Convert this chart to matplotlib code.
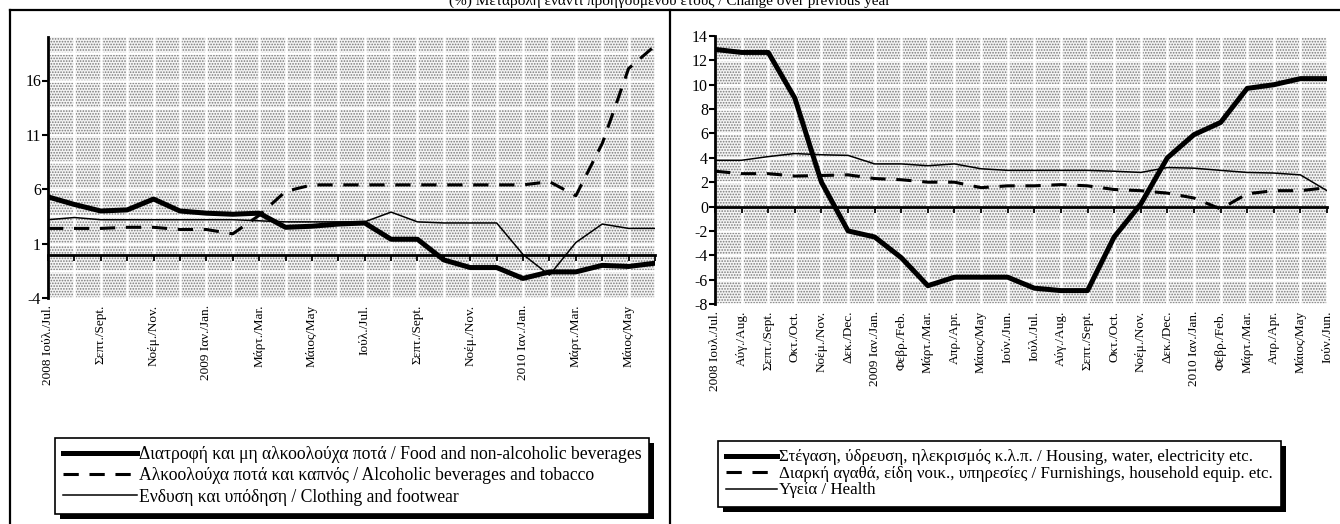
import matplotlib.pyplot as plt
from matplotlib.lines import Line2D
from matplotlib.patches import Rectangle

plt.rcParams['font.family'] = ['Liberation Serif', 'DejaVu Serif']
plt.rcParams['axes.unicode_minus'] = False
plt.rcParams['hatch.linewidth'] = 0.8

W, H = 1340, 524

title = "(%) Μεταβολή έναντι προηγούμενου έτους / Change over previous year"

# monthly points, Jul 2008 .. Jun 2010
months = list(range(24))

left_labels = ["2008 Ιούλ./Jul.", "Σεπτ./Sept.", "Νοέμ./Nov.", "2009 Ιαν./Jan.",
               "Μάρτ./Mar.", "Μάιος/May", "Ιούλ./Jul.", "Σεπτ./Sept.",
               "Νοέμ./Nov.", "2010 Ιαν./Jan.", "Μάρτ./Mar.", "Μάιος/May"]
right_labels = ["2008 Ιουλ./Jul.", "Αύγ./Aug.", "Σεπτ./Sept.", "Οκτ./Oct.",
                "Νοέμ./Nov.", "Δεκ./Dec.", "2009 Ιαν./Jan.", "Φεβρ./Feb.",
                "Μάρτ./Mar.", "Απρ./Apr.", "Μάιος/May", "Ιούν./Jun.",
                "Ιούλ./Jul.", "Αύγ./Aug.", "Σεπτ./Sept.", "Οκτ./Oct.",
                "Νοέμ./Nov.", "Δεκ./Dec.", "2010 Ιαν./Jan.", "Φεβρ./Feb.",
                "Μάρτ./Mar.", "Απρ./Apr.", "Μάιος/May", "Ιούν./Jun."]

food = [5.3, 4.6, 4.0, 4.1, 5.1, 4.0, 3.8, 3.7, 3.8, 2.5, 2.6, 2.8,
        2.9, 1.4, 1.4, -0.5, -1.2, -1.2, -2.2, -1.6, -1.6, -1.0, -1.1, -0.8]
alcohol = [2.4, 2.4, 2.4, 2.5, 2.5, 2.3, 2.3, 1.9, 3.6, 5.8, 6.4, 6.4,
           6.4, 6.4, 6.4, 6.4, 6.4, 6.4, 6.4, 6.7, 5.4, 10.2, 17.1, 19.2]
clothing = [3.2, 3.4, 3.2, 3.2, 3.2, 3.2, 3.2, 3.2, 3.1, 3.0, 3.0, 3.0,
            3.0, 3.9, 3.0, 2.9, 2.9, 2.9, 0.0, -1.9, 1.1, 2.8, 2.4, 2.4]

housing = [12.9, 12.65, 12.65, 8.9, 2.0, -2.0, -2.5, -4.2, -6.5, -5.8, -5.8, -5.8,
           -6.7, -6.9, -6.9, -2.5, 0.2, 4.0, 5.9, 6.9, 9.7, 10.0, 10.5, 10.5]
furnishings = [2.9, 2.7, 2.7, 2.5, 2.55, 2.6, 2.3, 2.2, 2.0, 2.0, 1.55, 1.7,
               1.7, 1.8, 1.7, 1.4, 1.3, 1.1, 0.7, -0.2, 1.05, 1.3, 1.3, 1.55]
health = [3.8, 3.8, 4.1, 4.35, 4.25, 4.2, 3.5, 3.5, 3.35, 3.5, 3.1, 2.97,
          2.97, 2.97, 2.97, 2.9, 2.8, 3.2, 3.15, 2.97, 2.8, 2.75, 2.6, 1.3]

left_names = ["Διατροφή και μη αλκοολούχα ποτά / Food and non-alcoholic beverages",
              "Αλκοολούχα ποτά και καπνός / Alcoholic beverages and tobacco",
              "Ενδυση και υπόδηση / Clothing and footwear"]
right_names = ["Στέγαση, ύδρευση, ηλεκρισμός κ.λ.π. / Housing, water, electricity etc.",
               "Διαρκή αγαθά, είδη νοικ., υπηρεσίες / Furnishings, household equip. etc.",
               "Υγεία / Health"]

fig = plt.figure(figsize=(W / 100, H / 100), dpi=100)


def px_axes(x0, y0, x1, y1):
    return fig.add_axes([x0 / W, 1 - y1 / H, (x1 - x0) / W, (y1 - y0) / H])


def style(ax, ylim, yticks, yminor, tick_pos, tick_labels):
    ax.set_xlim(0, 23)
    ax.set_ylim(*ylim)
    ax.add_patch(Rectangle((0, 0), 1, 1, transform=ax.transAxes, facecolor='#f4f4f4',
                           edgecolor='#7a7a7a', hatch='......', lw=0, zorder=0))
    ax.set_xticks(months)
    ax.set_yticks(yticks)
    ax.set_yticks(yminor, minor=True)
    ax.set_axisbelow(True)
    ax.grid(axis='x', color='white', lw=1.8)
    ax.grid(axis='y', which='both', color='white', lw=1.8)
    for s in ('top', 'right'):
        ax.spines[s].set_visible(False)
    ax.spines['left'].set_linewidth(2)
    ax.spines['bottom'].set_position(('data', 0))
    ax.spines['bottom'].set_linewidth(2)
    ax.spines['bottom'].set_zorder(1.5)
    ax.tick_params(axis='x', direction='out', length=4, width=1.3, labelbottom=False)
    ax.tick_params(axis='y', which='major', direction='out', length=4, width=1.5,
                   labelsize=11.5, pad=1)
    ax.tick_params(axis='y', which='minor', length=0)
    sec = ax.secondary_xaxis(0)
    sec.set_xticks(tick_pos, tick_labels, rotation=90, fontsize=9.5)
    sec.tick_params(length=0, pad=5)
    sec.spines['bottom'].set_visible(False)


ax1 = px_axes(48, 37, 655, 298)
style(ax1, (-4, 20), [-4, 1, 6, 11, 16], [-1.5, 3.5, 8.5, 13.5, 18.5],
      months[::2], left_labels)
l1 = ax1.plot(months, food, color='k', lw=3.6, solid_joinstyle='round')
l2 = ax1.plot(months, alcohol, color='k', lw=2.2, dashes=(5, 3.5))
l3 = ax1.plot(months, clothing, color='k', lw=1.1)

ax2 = px_axes(715, 36, 1327, 304)
style(ax2, (-8, 14), list(range(-8, 15, 2)), [], months, right_labels)
r1 = ax2.plot(months, housing, color='k', lw=3.6, solid_joinstyle='round')
r2 = ax2.plot(months, furnishings, color='k', lw=2.2, dashes=(5, 3.5))
r3 = ax2.plot(months, health, color='k', lw=1.1)

fig.text(0.5, 1 - 5 / H, title, ha='center', va='baseline', fontsize=11)

leg1 = fig.legend(l1 + l2 + l3, left_names, loc='upper left',
                  bbox_to_anchor=(55 / W, 1 - 438 / H), borderaxespad=0,
                  fontsize=12.7, handlelength=4.2, labelspacing=0.22,
                  handletextpad=0.1, borderpad=0.45, fancybox=False,
                  edgecolor='black', framealpha=1)
leg2 = fig.legend(r1 + r2 + r3, right_names, loc='upper left',
                  bbox_to_anchor=(718 / W, 1 - 441 / H), borderaxespad=0,
                  fontsize=12.2, handlelength=3.0, labelspacing=0.03,
                  handletextpad=0.1, borderpad=0.5, fancybox=False,
                  edgecolor='black', framealpha=1)

# box frames around the two panels
for xs, ys in [([10 / W, 1], [1 - 10 / H] * 2),
               ([10 / W] * 2, [0, 1 - 10 / H]),
               ([670 / W] * 2, [0, 1 - 10 / H])]:
    fig.add_artist(Line2D(xs, ys, color='k', lw=1.6))

# solid black drop shadows behind the legends
fig.canvas.draw()
for leg in (leg1, leg2):
    leg.get_frame().set_linewidth(1.2)
    leg.set_zorder(6)
    bb = leg.get_window_extent()
    fig.add_artist(Rectangle((bb.x0 + 5, bb.y0 - 5), bb.width, bb.height,
                             transform=None, facecolor='black', lw=0, zorder=5))

fig.savefig('out.png', dpi=100)
